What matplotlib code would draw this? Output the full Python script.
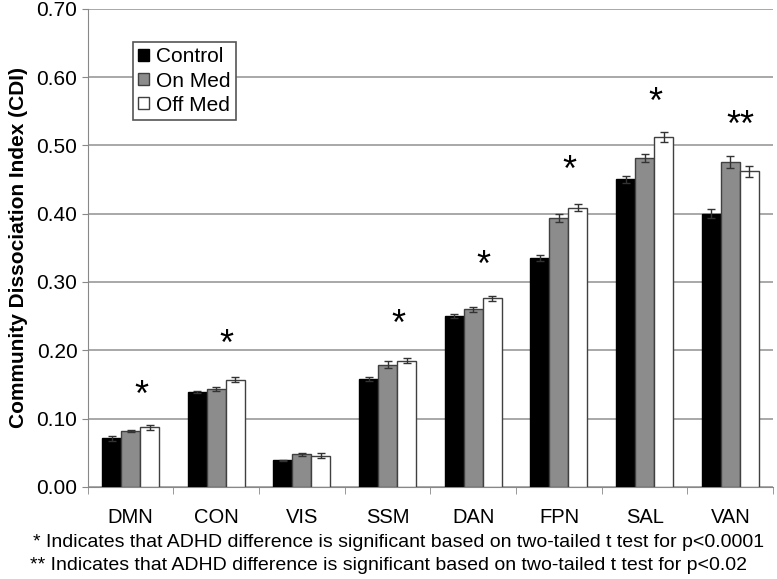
import matplotlib
matplotlib.use("Agg")
import matplotlib.pyplot as plt
import numpy as np

# values
networks = ["DMN", "CON", "VIS", "SSM", "DAN", "FPN", "SAL", "VAN"]
control = [0.071, 0.139, 0.039, 0.158, 0.250, 0.335, 0.450, 0.400]
on_med = [0.082, 0.143, 0.048, 0.179, 0.260, 0.394, 0.482, 0.476]
off_med = [0.087, 0.157, 0.046, 0.185, 0.276, 0.409, 0.512, 0.462]
control_err = [0.004, 0.002, 0.001, 0.003, 0.003, 0.004, 0.005, 0.007]
on_err = [0.002, 0.003, 0.002, 0.005, 0.004, 0.006, 0.006, 0.009]
off_err = [0.003, 0.004, 0.003, 0.004, 0.004, 0.005, 0.007, 0.008]
stars = ["*", "*", "", "*", "*", "*", "*", "**"]
star_y = [0.132, 0.207, 0.0, 0.237, 0.322, 0.462, 0.562, 0.527]
notes = ["* Indicates that ADHD difference is significant based on two-tailed t test for p<0.0001",
         "** Indicates that ADHD difference is significant based on two-tailed t test for p<0.02"]

plt.rcParams['font.family'] = ['Liberation Sans', 'DejaVu Sans']

fig = plt.figure(figsize=(7.77, 5.79), dpi=100)
ax = fig.add_axes([0.113, 0.159, 0.882, 0.826])

x = np.arange(len(networks))
w = 0.222
ekw = dict(ecolor="#333333", elinewidth=1, capsize=3, capthick=1)
ax.bar(x - w, control, w, color="black", edgecolor="black", linewidth=1,
       yerr=control_err, error_kw=ekw, label="Control", zorder=3)
ax.bar(x, on_med, w, color="#8c8c8c", edgecolor="#404040", linewidth=1,
       yerr=on_err, error_kw=ekw, label="On Med", zorder=3)
ax.bar(x + w, off_med, w, color="white", edgecolor="#404040", linewidth=1,
       yerr=off_err, error_kw=ekw, label="Off Med", zorder=3)

for i, s in enumerate(stars):
    if s:
        ax.text(x[i] + 0.12, star_y[i], s, ha="center", va="center", fontsize=26)

ax.set_xlim(-0.5, len(networks) - 0.5)
ax.set_ylim(0, 0.70)
ax.set_yticks(np.arange(0, 0.71, 0.10))
ax.set_yticklabels(["%.2f" % v for v in np.arange(0, 0.71, 0.10)], fontsize=15)
ax.set_xticks(x)
ax.set_xticklabels(networks, fontsize=14.5)
ax.set_xticks(np.arange(-0.5, len(networks)), minor=True)
ax.tick_params(axis="x", which="major", length=0, pad=15)
ax.tick_params(axis="x", which="minor", length=5, color="#888888")
ax.tick_params(axis="y", length=4, color="#888888")
ax.grid(axis="y", color="#999999", linewidth=1.2, zorder=0)
ax.set_axisbelow(True)
for side in ["top", "right"]:
    ax.spines[side].set_visible(False)
for side in ["left", "bottom"]:
    ax.spines[side].set_color("#888888")
ax.set_ylabel("Community Dissociation Index (CDI)", fontsize=15, fontweight="bold", labelpad=6)

leg = ax.legend(loc="upper left", bbox_to_anchor=(0.066, 0.93), fontsize=15,
                frameon=True, fancybox=False, edgecolor="#555555", framealpha=1,
                handlelength=0.5, handleheight=0.5, handletextpad=0.35,
                borderpad=0.25, labelspacing=0.25, borderaxespad=0)
leg.get_frame().set_linewidth(1.2)

fig.text(0.513, 0.063, notes[0], ha="center", va="center", fontsize=14)
fig.text(0.50, 0.023, notes[1], ha="center", va="center", fontsize=14)

fig.savefig("out.png", dpi=100)
